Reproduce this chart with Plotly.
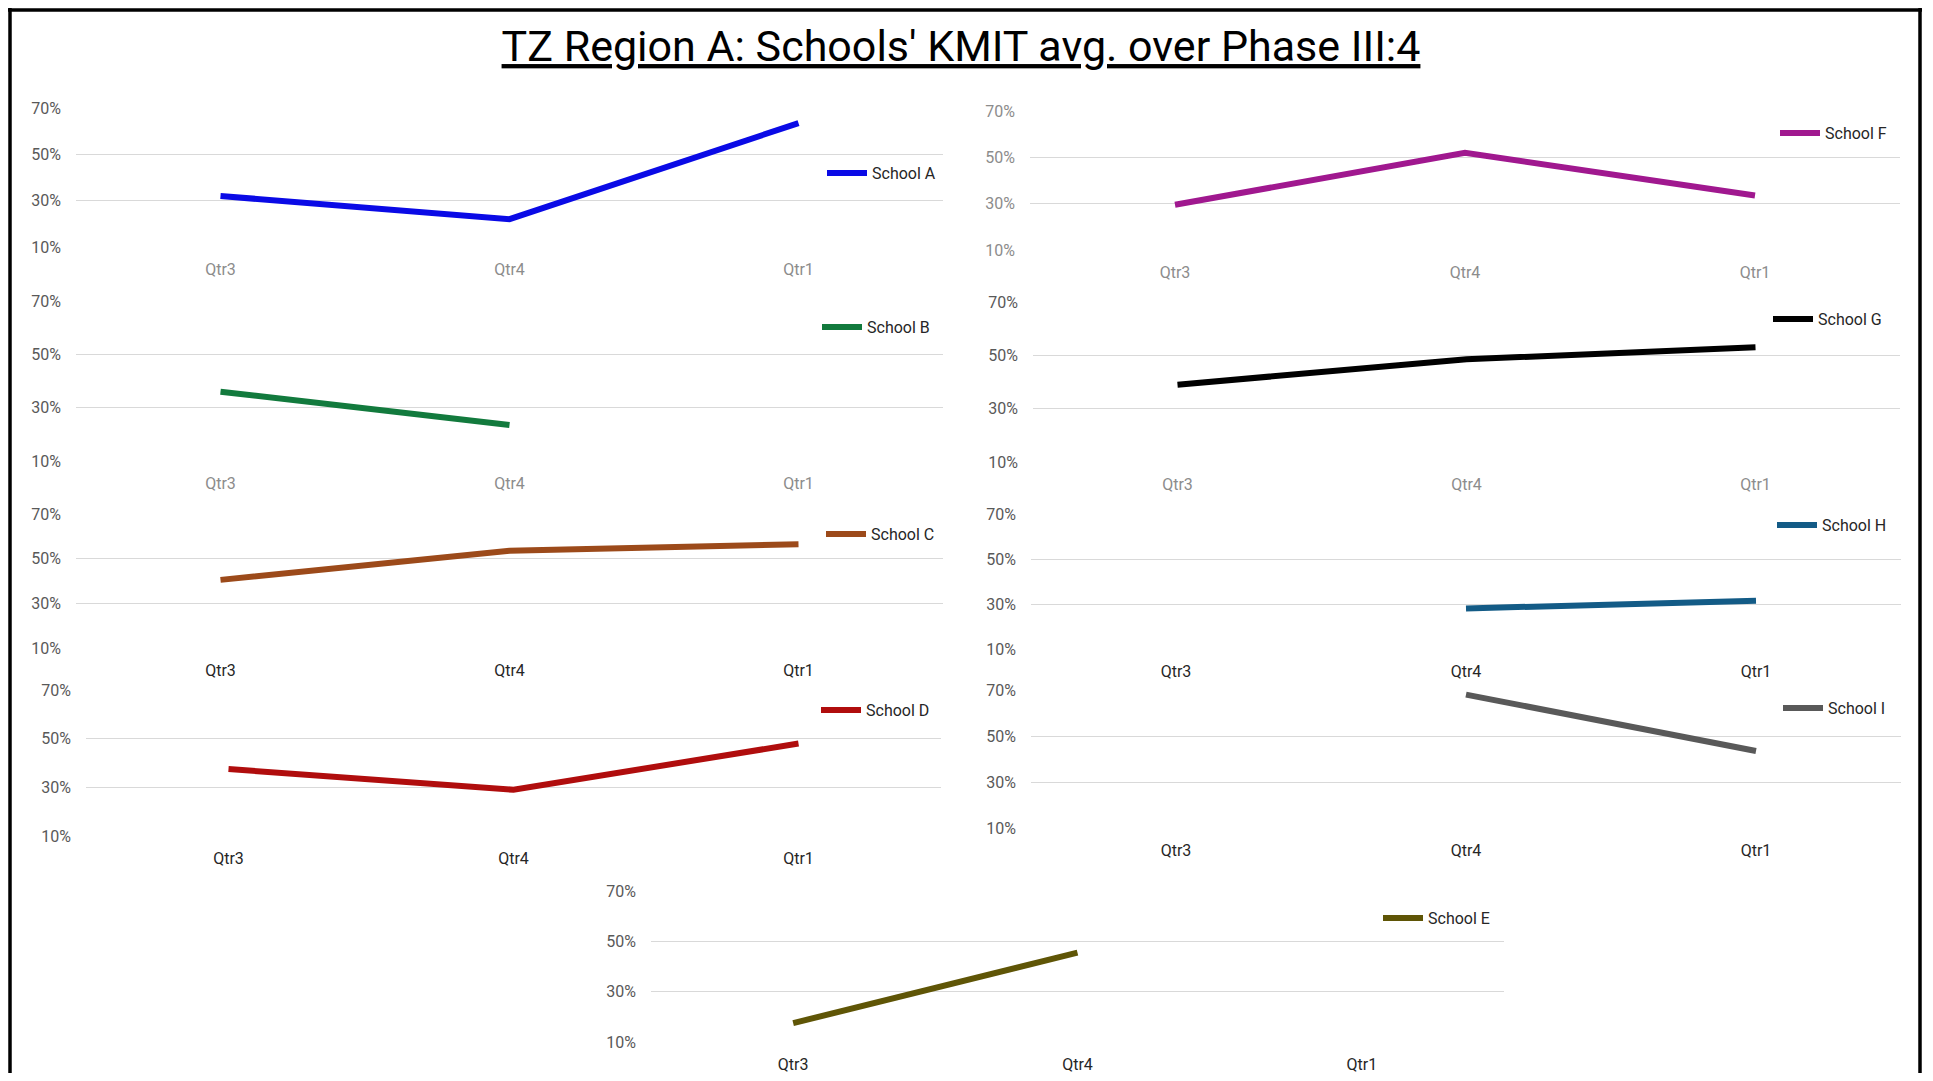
import plotly.graph_objects as go

# Seite hat 8px Body-Rand -> Figur etwas kleiner, alle Pixel um OFF verschoben
OFF = 8
W, H = 1933 - 2 * OFF, 1081 - 2 * OFF

quarters = ["Qtr3", "Qtr4", "Qtr1"]

# KMIT-Durchschnitt je Schule in % (None = kein Wert)
school_a = [32.0, 22.0, 63.5]
school_b = [36.0, 23.5, None]
school_c = [40.5, 53.5, 56.5]
school_d = [37.5, 29.0, 48.0]
school_e = [17.5, 45.5, None]
school_f = [29.5, 52.0, 33.5]
school_g = [39.0, 48.5, 53.0]
school_h = [None, 28.0, 31.5]
school_i = [None, 68.0, 43.5]

names = ["School A", "School B", "School C", "School D", "School E",
         "School F", "School G", "School H", "School I"]
values = [school_a, school_b, school_c, school_d, school_e,
          school_f, school_g, school_h, school_i]

colors = ["#0a0ae6", "#127a3d", "#9c4a1a", "#b00d0d", "#5f5506",
          "#a0188f", "#000000", "#135b86", "#595959"]

# Plotbereich in Pixeln (Screenshot): x links, x rechts, y oben (70%), y unten (10%)
boxes = [
    (76, 943, 108, 247),
    (76, 943, 301, 461),
    (76, 943, 514, 648),
    (86, 941, 690, 836),
    (651, 1504, 891, 1042),
    (1030, 1900, 111, 250),
    (1033, 1900, 302, 462),
    (1031, 1901, 514, 649),
    (1031, 1901, 690, 828),
]
# Legendenposition: Linienanfang x, Mitte y
legend_pos = [(828, 173), (823, 327), (827, 534), (822, 710), (1384, 918),
              (1781, 133), (1774, 319), (1778, 525), (1784, 708)]

xtick_col = ["#8c8c8c", "#8c8c8c", "#262626", "#262626", "#262626",
             "#8c8c8c", "#8c8c8c", "#262626", "#262626"]
ytick_col = ["#595959", "#595959", "#595959", "#595959", "#595959",
             "#8c8c8c", "#595959", "#595959", "#595959"]

FONT = "Roboto, Liberation Sans, Arial, sans-serif"


def px_x(x):
    return (x - OFF) / W


def px_y(y):
    return 1 - (y - OFF) / H


fig = go.Figure()
layout = dict(
    width=W, height=H,
    margin=dict(l=0, r=0, t=0, b=0, autoexpand=False),
    paper_bgcolor="white", plot_bgcolor="white",
    font=dict(family=FONT, color="#404040"),
    title=dict(
        text="<u>TZ Region A: Schools' KMIT avg. over Phase III:4</u>",
        x=px_x(961), xanchor="center", y=px_y(46), yanchor="middle",
        font=dict(size=43, color="black", family=FONT),
    ),
)

for i, (name, vals) in enumerate(zip(names, values)):
    n = "" if i == 0 else str(i + 1)
    x0, x1, yt, yb = boxes[i]
    fig.add_trace(go.Scatter(
        x=quarters, y=vals, name=name, mode="lines",
        line=dict(color=colors[i], width=6),
        xaxis="x" + n, yaxis="y" + n,
        legend="legend" + n, showlegend=True,
    ))
    layout["xaxis" + n] = dict(
        domain=[px_x(x0), px_x(x1)], anchor="y" + n,
        type="category", range=[-0.5, 2.5],
        categoryorder="array", categoryarray=quarters,
        showgrid=False, zeroline=False, showline=False, ticks="",
        tickfont=dict(size=16, color=xtick_col[i], family=FONT),
        ticklabelstandoff=11, automargin=False,
    )
    layout["yaxis" + n] = dict(
        domain=[px_y(yb), px_y(yt)], anchor="x" + n,
        range=[10, 70], tick0=10, dtick=20, ticksuffix="%",
        showgrid=True, gridcolor="#d9d9d9", gridwidth=1.3,
        zeroline=False, showline=False, ticks="",
        tickfont=dict(size=16, color=ytick_col[i], family=FONT),
        ticklabelstandoff=14, automargin=False,
    )
    lx, ly = legend_pos[i]
    layout["legend" + n] = dict(
        x=px_x(lx - 6), xanchor="left", y=px_y(ly), yanchor="middle",
        bgcolor="rgba(0,0,0,0)", borderwidth=0, itemwidth=40,
        font=dict(size=16, color="#262626", family=FONT),
    )

# schwarzer Rahmen (oben, links, rechts) direkt am Figurrand
frame = dict(type="line", xref="paper", yref="paper", line=dict(color="black", width=3.5))
layout["shapes"] = [
    dict(frame, x0=0, x1=px_x(1922), y0=px_y(10), y1=px_y(10)),
    dict(frame, x0=px_x(10), x1=px_x(10), y0=0, y1=px_y(8)),
    dict(frame, x0=px_x(1920), x1=px_x(1920), y0=0, y1=px_y(8)),
]

fig.update_layout(**layout)
fig.write_html("out.html")
